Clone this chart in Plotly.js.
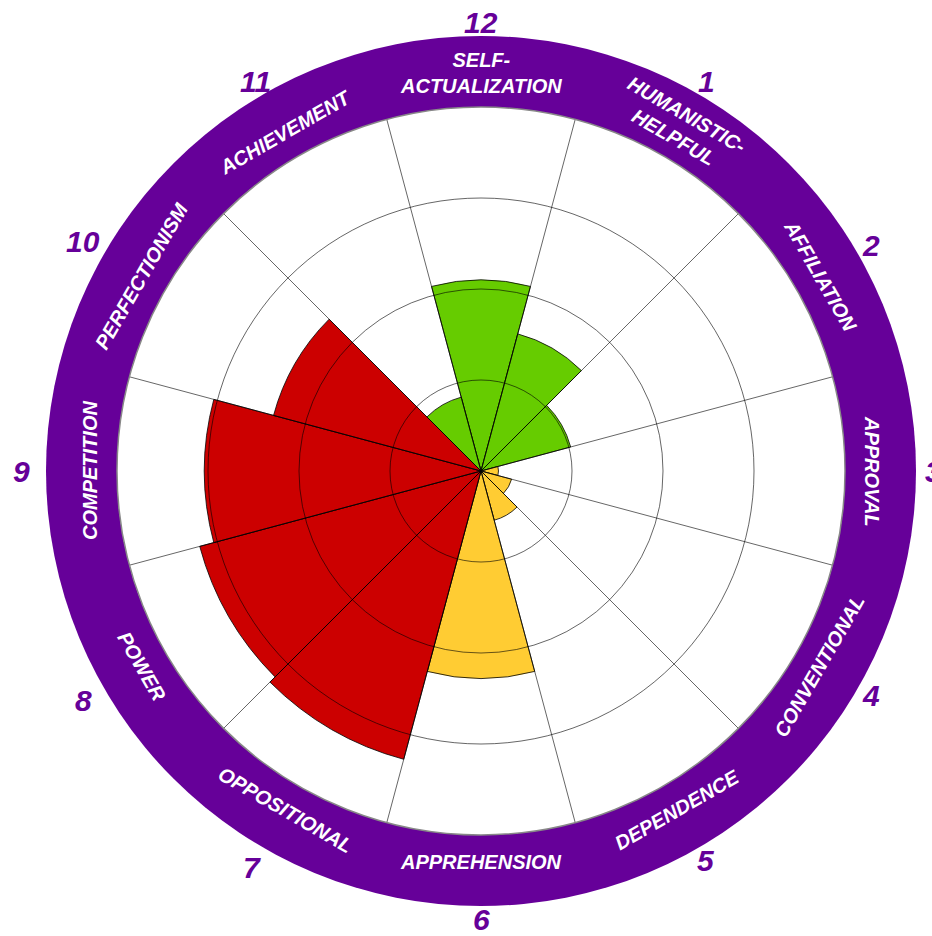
<!DOCTYPE html>
<html>
<head>
<meta charset="utf-8">
<script src="https://cdn.plot.ly/plotly-3.0.1.min.js"></script>
<style>html,body{margin:0;padding:0;background:#fff;}#chart{width:932px;height:936px;}</style>
</head>
<body>
<div id="chart"></div>
<script>
// ---- data ----
var sectorNumbers = ["12","1","2","3","4","5","6","7","8","9","10","11"];
var sectorLabels = ["SELF-<br>ACTUALIZATION","HUMANISTIC-<br>HELPFUL","AFFILIATION","APPROVAL","CONVENTIONAL","DEPENDENCE","APPREHENSION","OPPOSITIONAL","POWER","COMPETITION","PERFECTIONISM","ACHIEVEMENT"];
var scores = [52.5, 39, 25.5, 4.8, 8.7, 14, 57, 82, 80, 76, 59, 21];
var sectorColors = ["#66CC00","#66CC00","#66CC00","#FFCC33","#FFCC33","#FFCC33","#FFCC33","#CC0000","#CC0000","#CC0000","#CC0000","#66CC00"];
var gridValues = [25, 50, 75];

// ---- layout geometry ----
var W = 932, H = 936;
var cx = 481, cy = 471, R = 364;       // polar centre and radius (px)
var ringOuter = 435, labelR = 391, label2R = 398;
var numberR = [449, 450, 450, 452, 450, 450, 448, 458, 459, 460, 459, 450];
var purple = "#660099";

var theta = sectorLabels.map(function(_, i){ return i * 30; });

function px2paper(x, y){ return {x: x / W, y: (H - y) / H}; }
function polarPt(r, deg){
  var a = deg * Math.PI / 180;
  return px2paper(cx + r * Math.sin(a), cy - r * Math.cos(a));
}

var trace = {
  type: "barpolar",
  subplot: "polar",
  r: scores,
  theta: theta,
  width: theta.map(function(){ return 30; }),
  marker: {color: sectorColors, line: {color: "#000", width: 0.8}},
  hoverinfo: "skip",
  showlegend: false
};
// invisible trace so the grid overlay subplot is drawn on top of the bars
var gridTrace = {
  type: "scatterpolar",
  subplot: "polar2",
  r: gridValues,
  theta: gridValues.map(function(){ return 0; }),
  mode: "markers",
  marker: {opacity: 0, size: 1},
  hoverinfo: "skip",
  showlegend: false
};

var annotations = [];
sectorLabels.forEach(function(lbl, i){
  var t = theta[i];
  var two = lbl.indexOf("<br>") >= 0;
  var p = polarPt(two ? label2R : labelR, t);
  var n = ((t + 180) % 360) - 180;
  var ang = (n >= -90 && n <= 90) ? n : (t - 180);
  annotations.push({
    xref: "paper", yref: "paper", x: p.x, y: p.y,
    xanchor: "center", yanchor: "middle", showarrow: false,
    text: lbl, textangle: ang,
    font: {family: "Liberation Sans, Arial, sans-serif", size: 20, color: "#fff", weight: "bold", style: "italic"}
  });
  var q = polarPt(numberR[i], t);
  annotations.push({
    xref: "paper", yref: "paper", x: q.x, y: q.y,
    xanchor: "center", yanchor: "middle", showarrow: false, borderpad: 0,
    text: sectorNumbers[i],
    font: {family: "Liberation Sans, Arial, sans-serif", size: 30, color: purple, weight: "bold", style: "italic"}
  });
});

var c = px2paper(cx, cy);
var shapes = [
  {type: "circle", layer: "below", xref: "paper", yref: "paper",
   xsizemode: "pixel", ysizemode: "pixel", xanchor: c.x, yanchor: c.y,
   x0: -ringOuter, x1: ringOuter, y0: -ringOuter, y1: ringOuter,
   fillcolor: purple, line: {width: 0}},
  {type: "circle", layer: "below", xref: "paper", yref: "paper",
   xsizemode: "pixel", ysizemode: "pixel", xanchor: c.x, yanchor: c.y,
   x0: -R, x1: R, y0: -R, y1: R,
   fillcolor: "#fff", line: {width: 0}}
];

var domain = {x: [(cx - R) / W, (cx + R) / W], y: [(H - cy - R) / H, (H - cy + R) / H]};
var gridCol = "rgba(0,0,0,0.6)";

function angAxis(showGrid){
  return {
    rotation: 90, direction: "clockwise", thetaunit: "degrees",
    tickvals: theta.map(function(t){ return t + 15; }),
    showticklabels: false, ticks: "",
    showgrid: showGrid, gridcolor: gridCol, gridwidth: 1,
    showline: showGrid, linecolor: "#888", linewidth: 1.5
  };
}
function radAxis(showGrid){
  return {
    range: [0, 100], tickvals: gridValues, showticklabels: false, ticks: "",
    showline: false, showgrid: showGrid, gridcolor: gridCol, gridwidth: 1
  };
}

var layout = {
  width: W, height: H,
  margin: {l: 0, r: 0, t: 0, b: 0},
  paper_bgcolor: "#fff",
  showlegend: false,
  polar: {domain: domain, bgcolor: "#fff", radialaxis: radAxis(false), angularaxis: angAxis(false)},
  polar2: {domain: domain, bgcolor: "rgba(0,0,0,0)", radialaxis: radAxis(true), angularaxis: angAxis(true)},
  shapes: shapes,
  annotations: annotations
};

Plotly.newPlot("chart", [trace, gridTrace], layout, {displayModeBar: false, staticPlot: true});
</script>
</body>
</html>
